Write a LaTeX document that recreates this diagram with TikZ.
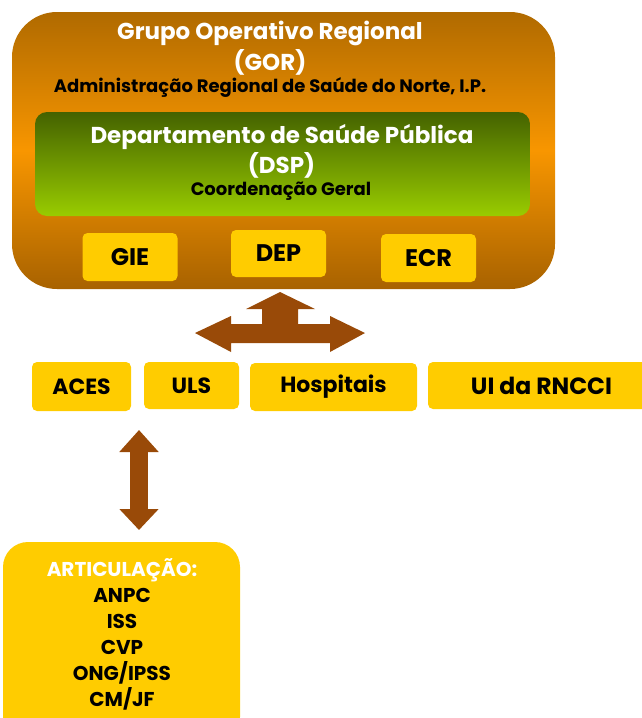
\documentclass[tikz,border=0pt]{standalone}
\usepackage{fontspec}
\setmainfont{Poppins}
\usetikzlibrary{arrows.meta,positioning,calc}
\definecolor{gorbrown}{RGB}{176,106,0}
\definecolor{gorbottom}{RGB}{168,98,0}
\definecolor{gororange}{RGB}{248,150,0}
\definecolor{dspdark}{RGB}{68,98,0}
\definecolor{dsplight}{RGB}{153,204,0}
\definecolor{unitgold}{RGB}{255,204,0}
\definecolor{arrowbrown}{RGB}{153,74,8}

\tikzset{
  unitbox/.style={fill=unitgold, rounded corners=5pt, inner sep=0pt,
    font=\bfseries\fontsize{22}{26}\selectfont},
  whitehead/.style={text=white, font=\bfseries\fontsize{23}{27}\selectfont},
  blacksub/.style={text=black, font=\bfseries\fontsize{18}{21}\selectfont}
}

\begin{document}
\begin{tikzpicture}[x=1pt, y=-1pt]
  \useasboundingbox (0,0) rectangle (641,718);

  % GOR block
  \node[rounded corners=45pt, minimum width=543pt, minimum height=277pt,
    top color=gorbrown, bottom color=gorbottom, middle color=gororange] (gor) at (283.5,150.5) {};
  \node[whitehead] (gortitle) at (270,33) {Grupo Operativo Regional};
  \node[whitehead] (gorabbr) at (270,62) {(GOR)};
  \node[blacksub] (gorsub) at (270,88) {Administração Regional de Saúde do Norte, I.P.};

  % DSP block
  \node[rounded corners=12pt, minimum width=495pt, minimum height=104pt,
    top color=dspdark, bottom color=dsplight, shading angle=0] (dsp) at (282.5,164) {};
  \node[whitehead] (dsptitle) at (282,137) {Departamento de Saúde Pública};
  \node[whitehead] (dspabbr) at (281.5,165) {(DSP)};
  \node[blacksub] (dspsub) at (281,191) {Coordenação Geral};

  \node[unitbox, font=\bfseries\fontsize{24}{28}\selectfont, minimum width=95pt, minimum height=48pt] (gie) at (130,257) {GIE};
  \node[unitbox, font=\bfseries\fontsize{24}{28}\selectfont, minimum width=95pt, minimum height=47pt] (dep) at (278.5,253.5) {DEP};
  \node[unitbox, font=\bfseries\fontsize{24}{28}\selectfont, minimum width=95pt, minimum height=48pt] (ecr) at (428.5,258) {ECR};

  % three-way arrow
  \coordinate (hub) at (280,333);
  \fill[arrowbrown, shift={(hub)}] (0,-41) -- (35,-24) -- (18,-24) -- (18,-9) -- (50,-9)
    -- (50,-17) -- (85,0) -- (50,19) -- (50,10) -- (-49,10) -- (-49,19) -- (-85,0)
    -- (-49,-17) -- (-49,-9) -- (-18,-9) -- (-18,-24) -- (-34,-24) -- cycle;

  % units
  \node[unitbox, minimum width=99pt, minimum height=49pt] (aces) at (81.5,386.5) {ACES};
  \node[unitbox, minimum width=95pt, minimum height=47pt] (uls) at (191.5,385.5) {ULS};
  \node[unitbox, minimum width=167pt, minimum height=48pt] (hosp) at (333.5,387) {Hospitais};
  \node[unitbox, font=\bfseries\fontsize{23.5}{28}\selectfont, minimum width=227pt, minimum height=47pt] (rncci) at (541.5,385.5) {UI da RNCCI};

  \coordinate (artup) at (139,430);
  \coordinate (artdown) at (139,530);
  \draw[arrowbrown, line width=18pt,
    {Triangle[length=22pt,width=38pt]}-{Triangle[length=21pt,width=38pt]}] (artup) -- (artdown);

  % articulation
  \node[fill=unitgold, rounded corners=25pt, minimum width=237pt, minimum height=200pt] (art) at (121.5,642) {};
  \node[align=center, font=\bfseries\fontsize{20}{26}\selectfont] (artlist) at (122,634.5)
    {\textcolor{white}{ARTICULAÇÃO:}\\ANPC\\ISS\\CVP\\ONG/IPSS\\CM/JF};
\end{tikzpicture}
\end{document}
